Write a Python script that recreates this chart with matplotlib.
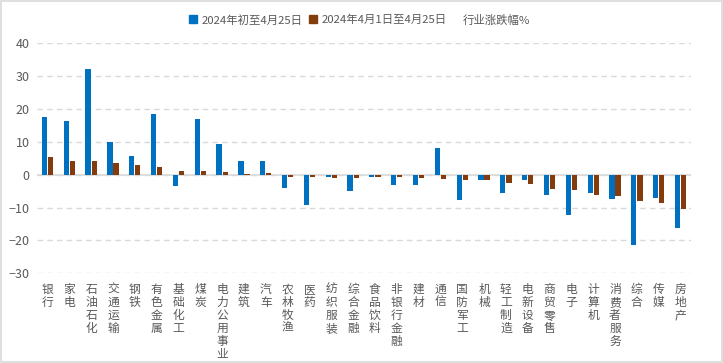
import matplotlib
matplotlib.use('Agg')
import matplotlib.pyplot as plt
import matplotlib.patches as mpatches
import numpy as np

plt.rcParams['font.family'] = ['Noto Sans CJK SC', 'DejaVu Sans']
plt.rcParams['axes.unicode_minus'] = True

# 行业 data
industries = ['银行', '家电', '石油石化', '交通运输', '钢铁', '有色金属', '基础化工', '煤炭',
              '电力公用事业', '建筑', '汽车', '农林牧渔', '医药', '纺织服装', '综合金融',
              '食品饮料', '非银行金融', '建材', '通信', '国防军工', '机械', '轻工制造',
              '电新设备', '商贸零售', '电子', '计算机', '消费者服务', '综合', '传媒', '房地产']
ytd = [17.7, 16.4, 32.0, 10.0, 5.8, 18.6, -3.5, 17.0, 9.4, 4.3, 4.3, -4.1, -9.2, -0.7, -5.0,
       -0.7, -3.2, -3.2, 8.0, -7.8, -1.6, -5.7, -1.6, -6.3, -12.3, -5.7, -7.5, -21.5, -7.2, -16.3]
april = [5.3, 4.3, 4.3, 3.7, 3.0, 2.4, 1.2, 1.2, 0.9, 0.3, 0.6, -0.7, -0.7, -1.0, -1.0,
         -0.7, -0.7, -1.0, -1.3, -1.6, -1.6, -2.5, -2.8, -4.4, -4.7, -6.2, -6.5, -8.0, -8.6, -10.4]
label_ytd = '2024年初至4月25日'
label_apr = '2024年4月1日至4月25日'
label_title = '行业涨跌幅%'

blue = '#0070C0'
brown = '#843C0C'
grey_txt = '#595959'

fig = plt.figure(figsize=(7.23, 3.63), dpi=100)
ax = fig.add_axes([0.0506, 0.247, 0.9057, 0.634])

x = np.arange(len(industries))
w = 0.24
ax.bar(x - w / 2 - 0.02, ytd, width=w, color=blue, label=label_ytd, zorder=3)
ax.bar(x + w / 2 + 0.02, april, width=w, color=brown, label=label_apr, zorder=3)

ax.set_xlim(-0.5, len(industries) - 0.5)
ax.set_ylim(-30, 40)
ax.set_yticks(range(-30, 41, 10))
ax.yaxis.grid(True, color='#D9D9D9', linestyle=(0, (4, 3)), linewidth=1, zorder=0)
ax.axhline(0, color='#D9D9D9', linewidth=1.2, zorder=2)
for s in ax.spines.values():
    s.set_visible(False)
ax.set_xticks([])
ax.tick_params(axis='y', length=0, labelsize=9, labelcolor=grey_txt, pad=5)

# vertical category labels
for i, name in enumerate(industries):
    ax.annotate('\n'.join(name), xy=(i, 0), xycoords=('data', 'axes fraction'),
                xytext=(0, -7), textcoords='offset points', ha='center', va='top',
                fontsize=8.5, color=grey_txt, linespacing=1.0)

handles = [mpatches.Patch(color=blue), mpatches.Patch(color=brown)]
leg = fig.legend(handles, [label_ytd, label_apr], loc='center left',
                 bbox_to_anchor=(0.262, 0.945), ncol=2, frameon=False, fontsize=8.2,
                 handlelength=0.7, handleheight=0.7, handletextpad=0.35, columnspacing=0.6,
                 borderaxespad=0, borderpad=0)
for t in leg.get_texts():
    t.set_color(grey_txt)
fig.text(463 / 723, 0.945, label_title, ha='left', va='center', fontsize=8.2, color=grey_txt)

fig.patches.append(mpatches.Rectangle((0.001, 0.002), 0.997, 0.995, transform=fig.transFigure,
                                      fill=False, edgecolor='#D9D9D9', linewidth=1.2))

fig.savefig('out.png', dpi=100, facecolor='white')
